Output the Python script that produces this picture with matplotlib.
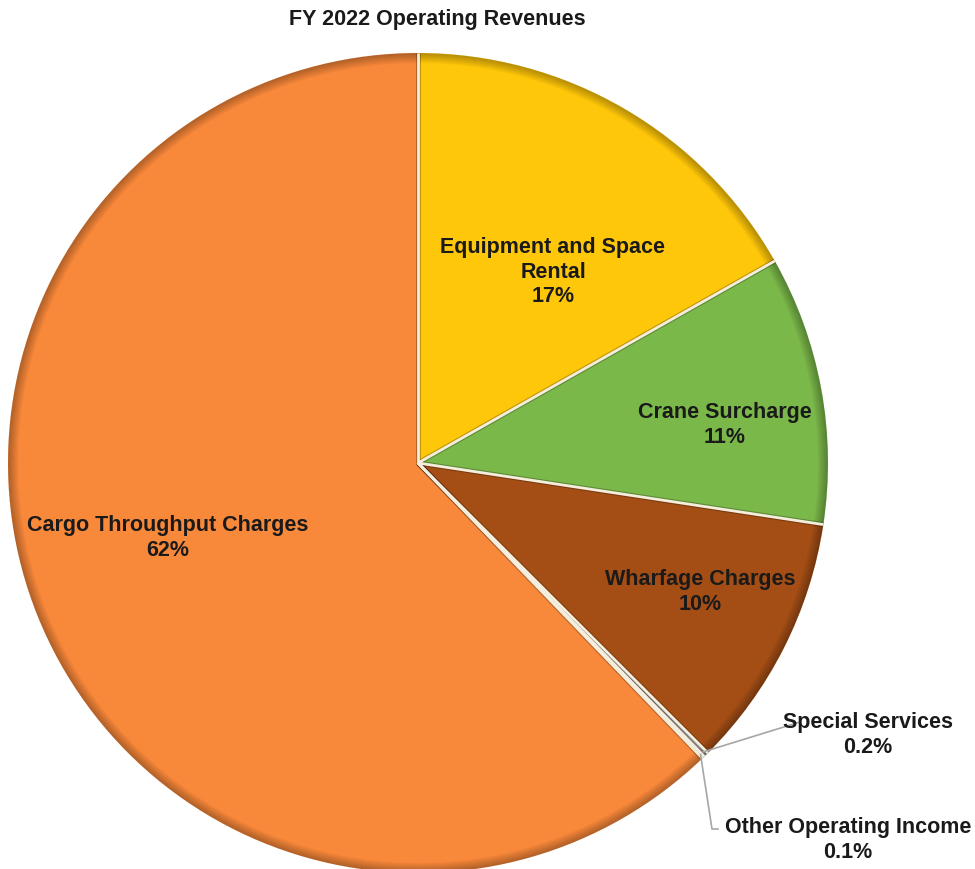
import numpy as np
import matplotlib.pyplot as plt
from matplotlib.patches import Wedge

# FY 2022 operating revenue shares (percent)
categories = ["Equipment and Space\nRental", "Crane Surcharge", "Wharfage Charges",
              "Special Services", "Other Operating Income", "Cargo Throughput Charges"]
shares = [16.8, 10.6, 10.1, 0.2, 0.1, 62.2]
colors = ["#FFC70A", "#7BB84A", "#A44E16", "#B0B0B0", "#D9D9D9", "#F8883A"]

plt.rcParams["font.family"] = ["Liberation Sans Narrow", "Liberation Sans", "DejaVu Sans"]

fig = plt.figure(figsize=(9.75, 8.69), dpi=100)
ax = fig.add_axes([0, 0, 1, 1])

cx, cy, r = 418, 869 - 463, 410
wedges, _ = ax.pie(shares, colors=colors, startangle=90, counterclock=False,
                   center=(cx, cy), radius=r, frame=True,
                   wedgeprops=dict(edgecolor="none", linewidth=0))

# darker rim (soft bevel) drawn as thin rings fading inward
for w in wedges:
    for k in range(10):
        ax.add_patch(Wedge((cx, cy), r - k, w.theta1, w.theta2, width=1.2,
                           facecolor="black", edgecolor="none",
                           alpha=0.25 * (1 - k / 10), zorder=3))

# light separators between slices, with a thin shadow
for w in wedges:
    a = np.deg2rad(w.theta1)
    ex, ey = cx + r * np.cos(a), cy + r * np.sin(a)
    ax.plot([cx, ex], [cy, ey], color="#00000040", linewidth=3.6,
            solid_capstyle="butt", zorder=3.5)
    ax.plot([cx, ex], [cy, ey], color="#F6EEDC", linewidth=2.0,
            solid_capstyle="butt", zorder=3.6)

ax.set_xlim(0, 975)
ax.set_ylim(0, 869)
ax.set_aspect("equal")
ax.axis("off")


def pct(v):
    return f"{v:.1f}%" if v < 1 else f"{v:.0f}%"


fs = 15.5
label_pos = {0: (553, 597), 1: (725, 444), 2: (700, 277), 5: (168, 331)}
for i, (x, y) in label_pos.items():
    ax.text(x, y, f"{categories[i]}\n{pct(shares[i])}", ha="center", va="center",
            fontsize=fs, fontweight="bold", color="#1a1a1a", linespacing=1.25, zorder=5)

# leader lines for the tiny slices
for i, (tx, ty), path in [(3, (868, 134), [(800, 147)]),
                          (4, (848, 29), [(712, 40), (718, 40)])]:
    mid = np.deg2rad((wedges[i].theta1 + wedges[i].theta2) / 2)
    px, py = cx + (r - 4) * np.cos(mid), cy + (r - 4) * np.sin(mid)
    xs = [px] + [p[0] for p in path]
    ys = [py] + [p[1] for p in path]
    ax.plot(xs, ys, color="#A6A6A6", linewidth=1.2, zorder=4)
    ax.text(tx, ty, f"{categories[i]}\n{pct(shares[i])}", ha="center", va="center",
            fontsize=fs, fontweight="bold", color="#1a1a1a", linespacing=1.25, zorder=5)

ax.text(437, 849, "FY 2022 Operating Revenues", ha="center", va="center",
        fontsize=fs, fontweight="bold", color="#1a1a1a")

fig.savefig("out.png", dpi=100)
